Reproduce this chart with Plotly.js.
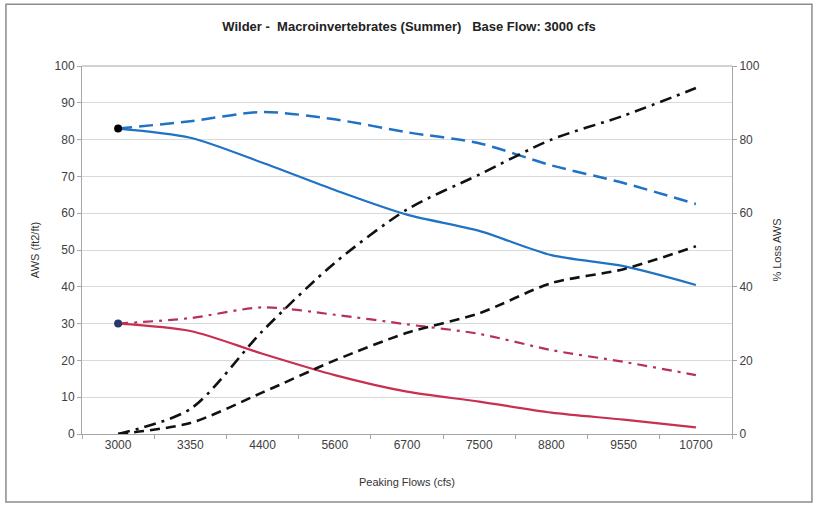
<!DOCTYPE html>
<html>
<head>
<meta charset="utf-8">
<script src="https://cdn.plot.ly/plotly-3.0.1.min.js"></script>
<style>html,body{margin:0;padding:0;background:#fff;}#chart{width:818px;height:505px;}</style>
</head>
<body>
<div id="chart"></div>
<script>
const flows = ["3000","3350","4400","5600","6700","7500","8800","9550","10700"];
const awsMacroSolid = [83, 80.5, 73.7, 66.3, 59.6, 55.2, 48.6, 45.6, 40.5];
const awsMacroDashed = [83, 85, 87.5, 85.5, 82, 79, 73, 68.2, 62.5];
const awsRedSolid = [30, 28, 21.8, 16, 11.5, 8.8, 5.8, 3.9, 1.8];
const awsRedDashDot = [30, 31.5, 34.4, 32.4, 29.8, 27.2, 22.8, 19.6, 16];
const lossDashDot = [0, 6.8, 28, 46.5, 61, 70.5, 80, 86.5, 94];
const lossDashed = [0, 3, 11.3, 20, 27.5, 32.8, 41, 44.8, 51];

const blue = "#1f72c4";
const red = "#c8304f";
const redDD = "#b43060";

const traces = [
  {x: flows, y: awsMacroDashed, mode: "lines", line: {color: blue, width: 2.5, dash: "14px,7px", shape: "spline", smoothing: 0.8}, yaxis: "y"},
  {x: flows, y: awsMacroSolid, mode: "lines", line: {color: blue, width: 2.2, shape: "spline", smoothing: 0.8}, yaxis: "y"},
  {x: flows, y: awsRedDashDot, mode: "lines", line: {color: redDD, width: 2.2, dash: "10px,6px,3px,6px", shape: "spline", smoothing: 0.8}, yaxis: "y"},
  {x: flows, y: awsRedSolid, mode: "lines", line: {color: red, width: 2.2, shape: "spline", smoothing: 0.8}, yaxis: "y"},
  {x: flows, y: lossDashDot, mode: "lines", line: {color: "#111", width: 2.6, dash: "12px,6px,3px,6px", shape: "spline", smoothing: 0.8}, yaxis: "y2"},
  {x: flows, y: lossDashed, mode: "lines", line: {color: "#111", width: 2.6, dash: "10px,6px", shape: "spline", smoothing: 0.8}, yaxis: "y2"},
  {x: [flows[0]], y: [awsMacroSolid[0]], mode: "markers", marker: {size: 8, color: "#000", line: {width: 0}}, yaxis: "y"},
  {x: [flows[0]], y: [awsRedSolid[0]], mode: "markers", marker: {size: 8, color: "#27386a", line: {width: 0}}, yaxis: "y"}
];

const tickFont = {family: "Liberation Sans, Arial, sans-serif", size: 12, color: "#404040"};

const layout = {
  width: 818, height: 505,
  margin: {l: 82, r: 86, t: 66, b: 71},
  paper_bgcolor: "#fff", plot_bgcolor: "#fff",
  showlegend: false,
  title: {text: "<b>Wilder -\u00A0 Macroinvertebrates (Summer)\u00A0\u00A0 Base Flow: 3000 cfs</b>", x: 0.5, xanchor: "center", y: 0.948, yanchor: "middle", font: {family: "Liberation Sans, Arial, sans-serif", size: 13, color: "#222"}},
  xaxis: {type: "category", range: [-0.5, 8.5], autorange: false, showgrid: false, showline: true, linecolor: "#a6a6a6", linewidth: 1, ticks: "outside", tickson: "boundaries", ticklen: 4, tickcolor: "#a6a6a6", tickfont: tickFont, zeroline: false, fixedrange: true,
    title: {text: "Peaking Flows (cfs)", font: {family: "Liberation Sans, Arial, sans-serif", size: 11, color: "#333"}, standoff: 26}},
  yaxis: {range: [0, 100], dtick: 10, showgrid: true, gridcolor: "#d9d9d9", gridwidth: 1, showline: true, linecolor: "#a6a6a6", ticks: "outside", ticklen: 4, tickcolor: "#a6a6a6", tickfont: tickFont, zeroline: false,
    title: {text: "AWS (ft2/ft)", font: {family: "Liberation Sans, Arial, sans-serif", size: 11, color: "#333"}, standoff: 12}},
  yaxis2: {range: [0, 100], dtick: 20, overlaying: "y", side: "right", showgrid: false, showline: true, linecolor: "#a6a6a6", ticks: "outside", ticklen: 4, tickcolor: "#a6a6a6", tickfont: tickFont, zeroline: false,
    title: {text: "% Loss AWS", font: {family: "Liberation Sans, Arial, sans-serif", size: 11, color: "#333"}, standoff: 14}},
  shapes: [
    {type: "rect", xref: "paper", yref: "paper", x0: -0.117, x1: 1.123, y0: -0.185, y1: 1.168, line: {color: "#8c8c8c", width: 1.5}, fillcolor: "rgba(0,0,0,0)", layer: "below"},
    {type: "line", xref: "paper", yref: "paper", x0: 0, x1: 1, y0: 1, y1: 1, line: {color: "#a6a6a6", width: 1}}
  ]
};

Plotly.newPlot("chart", traces, layout, {staticPlot: true, displayModeBar: false});
</script>
</body>
</html>
